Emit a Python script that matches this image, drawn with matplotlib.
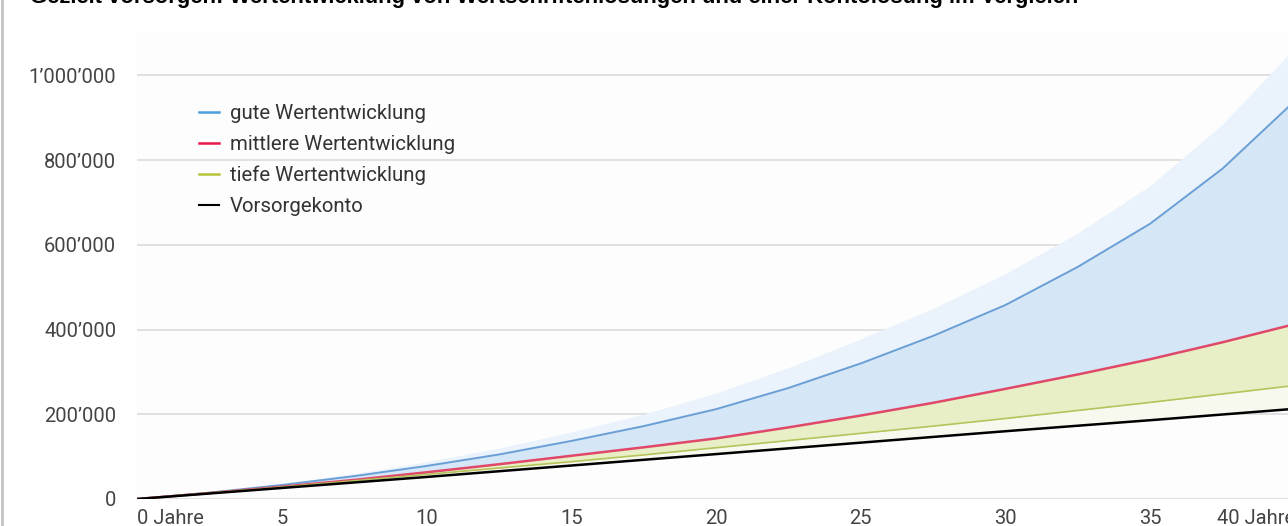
import matplotlib
matplotlib.use("Agg")
import matplotlib.pyplot as plt
from matplotlib.lines import Line2D

# ---- data (every 2.5 years) ----
years = [0, 2.5, 5, 7.5, 10, 12.5, 15, 17.5, 20, 22.5, 25, 27.5, 30, 32.5, 35, 37.5, 40]
gute = [0, 15000, 33000, 54000, 78000, 105000, 137000, 172000, 212000, 262000,
        320000, 385000, 458000, 548000, 650000, 780000, 940000]
gute_oben = [0, 16000, 36000, 60000, 88000, 120000, 158000, 200000, 250000, 310000,
             378000, 450000, 532000, 628000, 740000, 885000, 1065000]
mittlere = [0, 14000, 29000, 45000, 63000, 82000, 102000, 122000, 143000, 169000,
            197000, 227000, 260000, 294000, 330000, 370000, 413000]
tiefe = [0, 14000, 28000, 43000, 58000, 73000, 88000, 104000, 121000, 138000,
         155000, 172000, 190000, 209000, 228000, 248000, 268000]
konto = [0, 13000, 26000, 39000, 52000, 65500, 79000, 92500, 106000, 119500,
         133000, 146500, 160000, 173000, 186000, 199500, 213000]

x_ticks = [0, 5, 10, 15, 20, 25, 30, 35, 40]
x_labels = ["0 Jahre", "5", "10", "15", "20", "25", "30", "35", "40 Jahre"]
y_ticks = [0, 200000, 400000, 600000, 800000, 1000000]
y_labels = ["0", "200\u2019000", "400\u2019000", "600\u2019000", "800\u2019000", "1\u2019000\u2019000"]

title = ("Gezielt vorsorgen: Wertentwicklung von Wertschriftenl\u00f6sungen "
         "und einer Kontol\u00f6sung im Vergleich")

plt.rcParams['font.family'] = ['Roboto', 'DejaVu Sans']

fig = plt.figure(figsize=(12.88, 5.26), dpi=100)
W, H = 1288, 526
ax = fig.add_axes([137 / W, 27 / H, (1295 - 137) / W, (499 - 33) / H])
ax.set_facecolor('#fdfdfd')

# bands
ax.fill_between(years, gute, gute_oben, color='#eaf2fb', lw=0, zorder=1)
ax.fill_between(years, mittlere, gute, color='#d5e6f6', lw=0, zorder=1)
ax.fill_between(years, tiefe, mittlere, color='#e8eec5', lw=0, zorder=1)
ax.fill_between(years, konto, tiefe, color='#f7f9ef', lw=0, zorder=1)

# lines
ax.plot(years, gute, color='#6a9fd6', lw=1.4, zorder=3)
ax.plot(years, mittlere, color='#e0486a', lw=1.8, zorder=3)
ax.plot(years, tiefe, color='#b6c25a', lw=1.2, zorder=3)
ax.plot(years, konto, color='black', lw=1.8, zorder=4)

ax.set_xlim(0, 40)
ax.set_ylim(0, 1100000)

ax.set_yticks(y_ticks)
ax.set_yticklabels(y_labels)
ax.set_xticks(x_ticks)
ax.set_xticklabels(x_labels)
lbls = ax.get_xticklabels()
lbls[0].set_ha('left')
lbls[-1].set_ha('right')

ax.tick_params(axis='both', length=0, labelsize=14.5, labelcolor='#444444')
ax.tick_params(axis='y', pad=15)
ax.tick_params(axis='x', pad=7)
ax.grid(True, axis='y', color='#dcdcdc', lw=1.2)
ax.set_axisbelow(True)
for s in ax.spines.values():
    s.set_visible(False)

# legend
handles = [
    Line2D([], [], color='#4a9fe0', lw=1.8),
    Line2D([], [], color='#e8194a', lw=1.8),
    Line2D([], [], color='#b9c339', lw=1.8),
    Line2D([], [], color='black', lw=1.5),
]
labels = ["gute Wertentwicklung", "mittlere Wertentwicklung",
          "tiefe Wertentwicklung", "Vorsorgekonto"]
leg = ax.legend(handles, labels, loc='upper left',
                bbox_to_anchor=((199 - 137) / (1295 - 137), 1 - (104 - 33) / 466),
                frameon=False, fontsize=14.7, handlelength=1.0, handletextpad=0.5,
                labelspacing=0.58, borderpad=0, borderaxespad=0)
for t in leg.get_texts():
    t.set_color('#333333')

# title, cut off at top like the reference
fig.text(30 / W, 1 - 3 / H, title, fontsize=15.8, fontweight='bold',
         family=['Liberation Sans', 'DejaVu Sans'], va='baseline', ha='left')

# left border
fig.add_artist(Line2D([2 / W, 2 / W], [0, 1], color='#c4c4c4', lw=2))

fig.savefig('out.png', dpi=100, facecolor='white')
